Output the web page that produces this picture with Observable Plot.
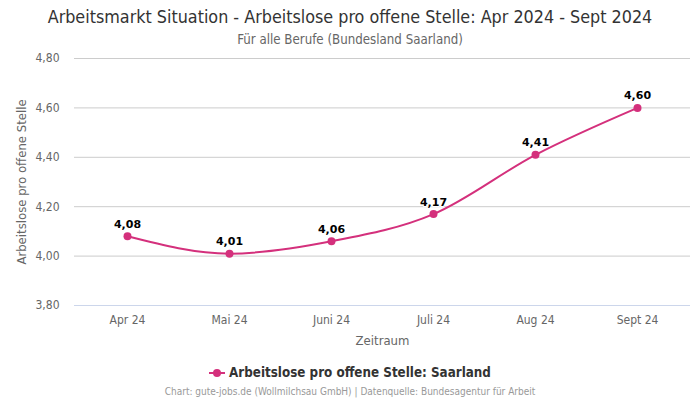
<!DOCTYPE html>
<html><head><meta charset="utf-8">
<script src="https://cdn.jsdelivr.net/npm/d3@7"></script>
<script src="https://cdn.jsdelivr.net/npm/@observablehq/plot@0.6"></script>
<style>
body{margin:0;width:700px;height:400px;background:#fff;font-family:"DejaVu Sans Condensed","DejaVu Sans",sans-serif;position:relative;overflow:hidden}
#title{position:absolute;top:6px;left:0;width:700px;text-align:center;font-size:17.8px;color:#333}
#sub{position:absolute;top:32px;left:0;width:700px;text-align:center;font-size:13.2px;color:#666}
#chart{position:absolute;top:48px;left:0}
#legend{position:absolute;top:365px;left:0;width:700px;text-align:center;font-size:13.3px;font-weight:bold;color:#333}
#cap{position:absolute;top:386px;left:0;width:700px;text-align:center;font-size:10px;color:#999}
</style></head><body>
<div id="title">Arbeitsmarkt Situation - Arbeitslose pro offene Stelle: Apr 2024 - Sept 2024</div>
<div id="sub">Für alle Berufe (Bundesland Saarland)</div>
<div id="chart"></div>
<div id="legend"><svg width="16" height="10" style="vertical-align:-1px;margin-right:4px"><line x1="0" y1="5" x2="16" y2="5" stroke="#d4307c" stroke-width="2"/><circle cx="8" cy="5" r="4" fill="#d4307c"/></svg>Arbeitslose pro offene Stelle: Saarland</div>
<div id="cap">Chart: gute-jobs.de (Wollmilchsau GmbH) | Datenquelle: Bundesagentur für Arbeit</div>
<script>
const months = ["Apr 24","Mai 24","Juni 24","Juli 24","Aug 24","Sept 24"];
const values = [4.08,4.01,4.06,4.17,4.41,4.60];
const yTicks = [3.8,4.0,4.2,4.4,4.6,4.8];
const data = months.map((m,i)=>({m,v:values[i]}));
const fmt = d => d.toFixed(2).replace(".",",");
const color = "#d4307c";
const plot = Plot.plot({
  width:700, height:300,
  marginTop:10, marginBottom:43, marginLeft:74, marginRight:10,
  style:{fontFamily:"'DejaVu Sans Condensed','DejaVu Sans',sans-serif", fontSize:"12px", color:"#666"},
  x:{type:"point", domain:months, padding:0.5, label:null},
  y:{domain:[3.8,4.8], ticks:yTicks, label:null},
  marks:[
    Plot.gridY(yTicks.filter(t=>t>3.8),{stroke:"#ccc", strokeOpacity:1}),
    Plot.ruleY([3.8],{stroke:"#ccd6eb"}),
    Plot.axisY(yTicks,{tickSize:0, tickPadding:15, tickFormat:fmt, fill:"#666", fontSize:12}),
    Plot.axisX({tickSize:0, tickPadding:10, fill:"#666", fontSize:12, label:null}),
    Plot.text(["Zeitraum"],{frameAnchor:"bottom", dy:35, lineAnchor:"middle", fill:"#666", fontSize:13}),
    Plot.text(["Arbeitslose pro offene Stelle"],{frameAnchor:"left", textAnchor:"middle", lineAnchor:"middle", rotate:-90, dx:-53, fill:"#666", fontSize:13}),
    Plot.line(data,{x:"m", y:"v", stroke:color, strokeWidth:2, curve:"monotone-x"}),
    Plot.dot(data,{x:"m", y:"v", fill:color, r:4}),
    Plot.text(data,{x:"m", y:"v", text:d=>fmt(d.v), dy:-12, fontWeight:"bold", fill:"#000", fontSize:11, fontFamily:"DejaVu Sans", stroke:"#fff", strokeWidth:2})
  ]
});
document.getElementById("chart").appendChild(plot);
</script>
</body></html>
